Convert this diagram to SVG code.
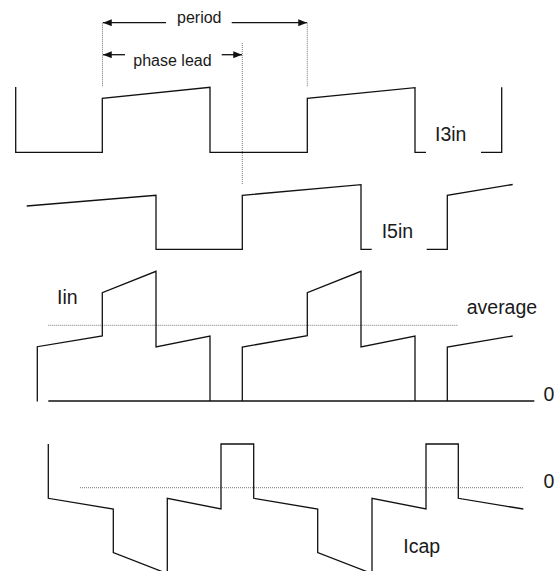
<svg xmlns="http://www.w3.org/2000/svg" width="559" height="571" viewBox="0 0 559 571">
<style>
.wave{fill:none;stroke:#111;stroke-width:1.3;stroke-linejoin:miter}
.dot{fill:none;stroke:#777;stroke-width:1;stroke-dasharray:1 1}
.arr{fill:none;stroke:#111;stroke-width:1.3}
.lbl{font-family:"Liberation Sans",Arial,sans-serif;fill:#1a1a1a}
.big{font-size:19.5px}
.sm{font-size:16px}
</style>
<defs>
<marker id="ah" viewBox="0 0 10 8" refX="10" refY="4" markerWidth="9" markerHeight="7" markerUnits="userSpaceOnUse" orient="auto">
<path d="M0,0 L10,4 L0,8 Z" fill="#111"/>
</marker>
</defs>
<rect width="559" height="571" fill="#fff"/>
<g id="connectors">
<path class="dot" d="M102.5,22.7 V87 M307.3,22.7 V87 M242.3,43 V185"/>
<path class="arr" d="M166,22.7 H103" marker-end="url(#ah)"/>
<path class="arr" d="M231.7,22.7 H307" marker-end="url(#ah)"/>
<path class="arr" d="M125,54.7 H103" marker-end="url(#ah)"/>
<path class="arr" d="M221.7,54.7 H242" marker-end="url(#ah)"/>
<text class="lbl sm" x="177" y="22.5">period</text>
<text class="lbl sm" x="133.3" y="65.5">phase lead</text>
</g>
<g id="I3in">
<path class="wave" d="M15.7,87 V152.3 H102.3 V98.3 L210,87.3 V152.3 H307.3 V98.3 L415,87.7 V152.3 H426 M481,152.3 H501.7 V87.3"/>
<text class="lbl big" x="435" y="141">I3in</text>
</g>
<g id="I5in">
<path class="wave" d="M26.7,206 L156,195.3 V249.3 H242.3 V195.3 L361,184.7 V249.3 H371.7 M426.7,249.3 H447.3 V195.3 L512.7,184.5"/>
<text class="lbl big" x="381.7" y="238.3">I5in</text>
</g>
<g id="Iin">
<path class="dot" d="M48.3,325.3 H457.7"/>
<path class="wave" d="M37.3,401.5 V346.7 L102.3,336 V292.7 L156,271.3 V347 L210,336 V401 M242.3,401 V347 L307.3,335.7 V292.7 L361,271.3 V347 L415,336 V401 M447.3,401 V347 L512.7,336 M48.3,401 H534.3"/>
<text class="lbl big" x="57" y="304">Iin</text>
<text class="lbl big" x="466.7" y="314">average</text>
<text class="lbl big" x="543.5" y="400.7">0</text>
</g>
<g id="Icap">
<path class="dot" d="M80,487.7 H523.3"/>
<path class="wave" d="M48.3,444 V498.3 L113.3,509 V552.5 L167.3,573.6 V498.3 L221,509 V444 H253.7 V498.3 L317.7,509 V552.5 L372,573.6 V498.3 L426,509 V444 H458.3 V498.3 L523.3,509"/>
<text class="lbl big" x="543.5" y="488.3">0</text>
<text class="lbl big" x="403.3" y="552.7">Icap</text>
</g>
</svg>
